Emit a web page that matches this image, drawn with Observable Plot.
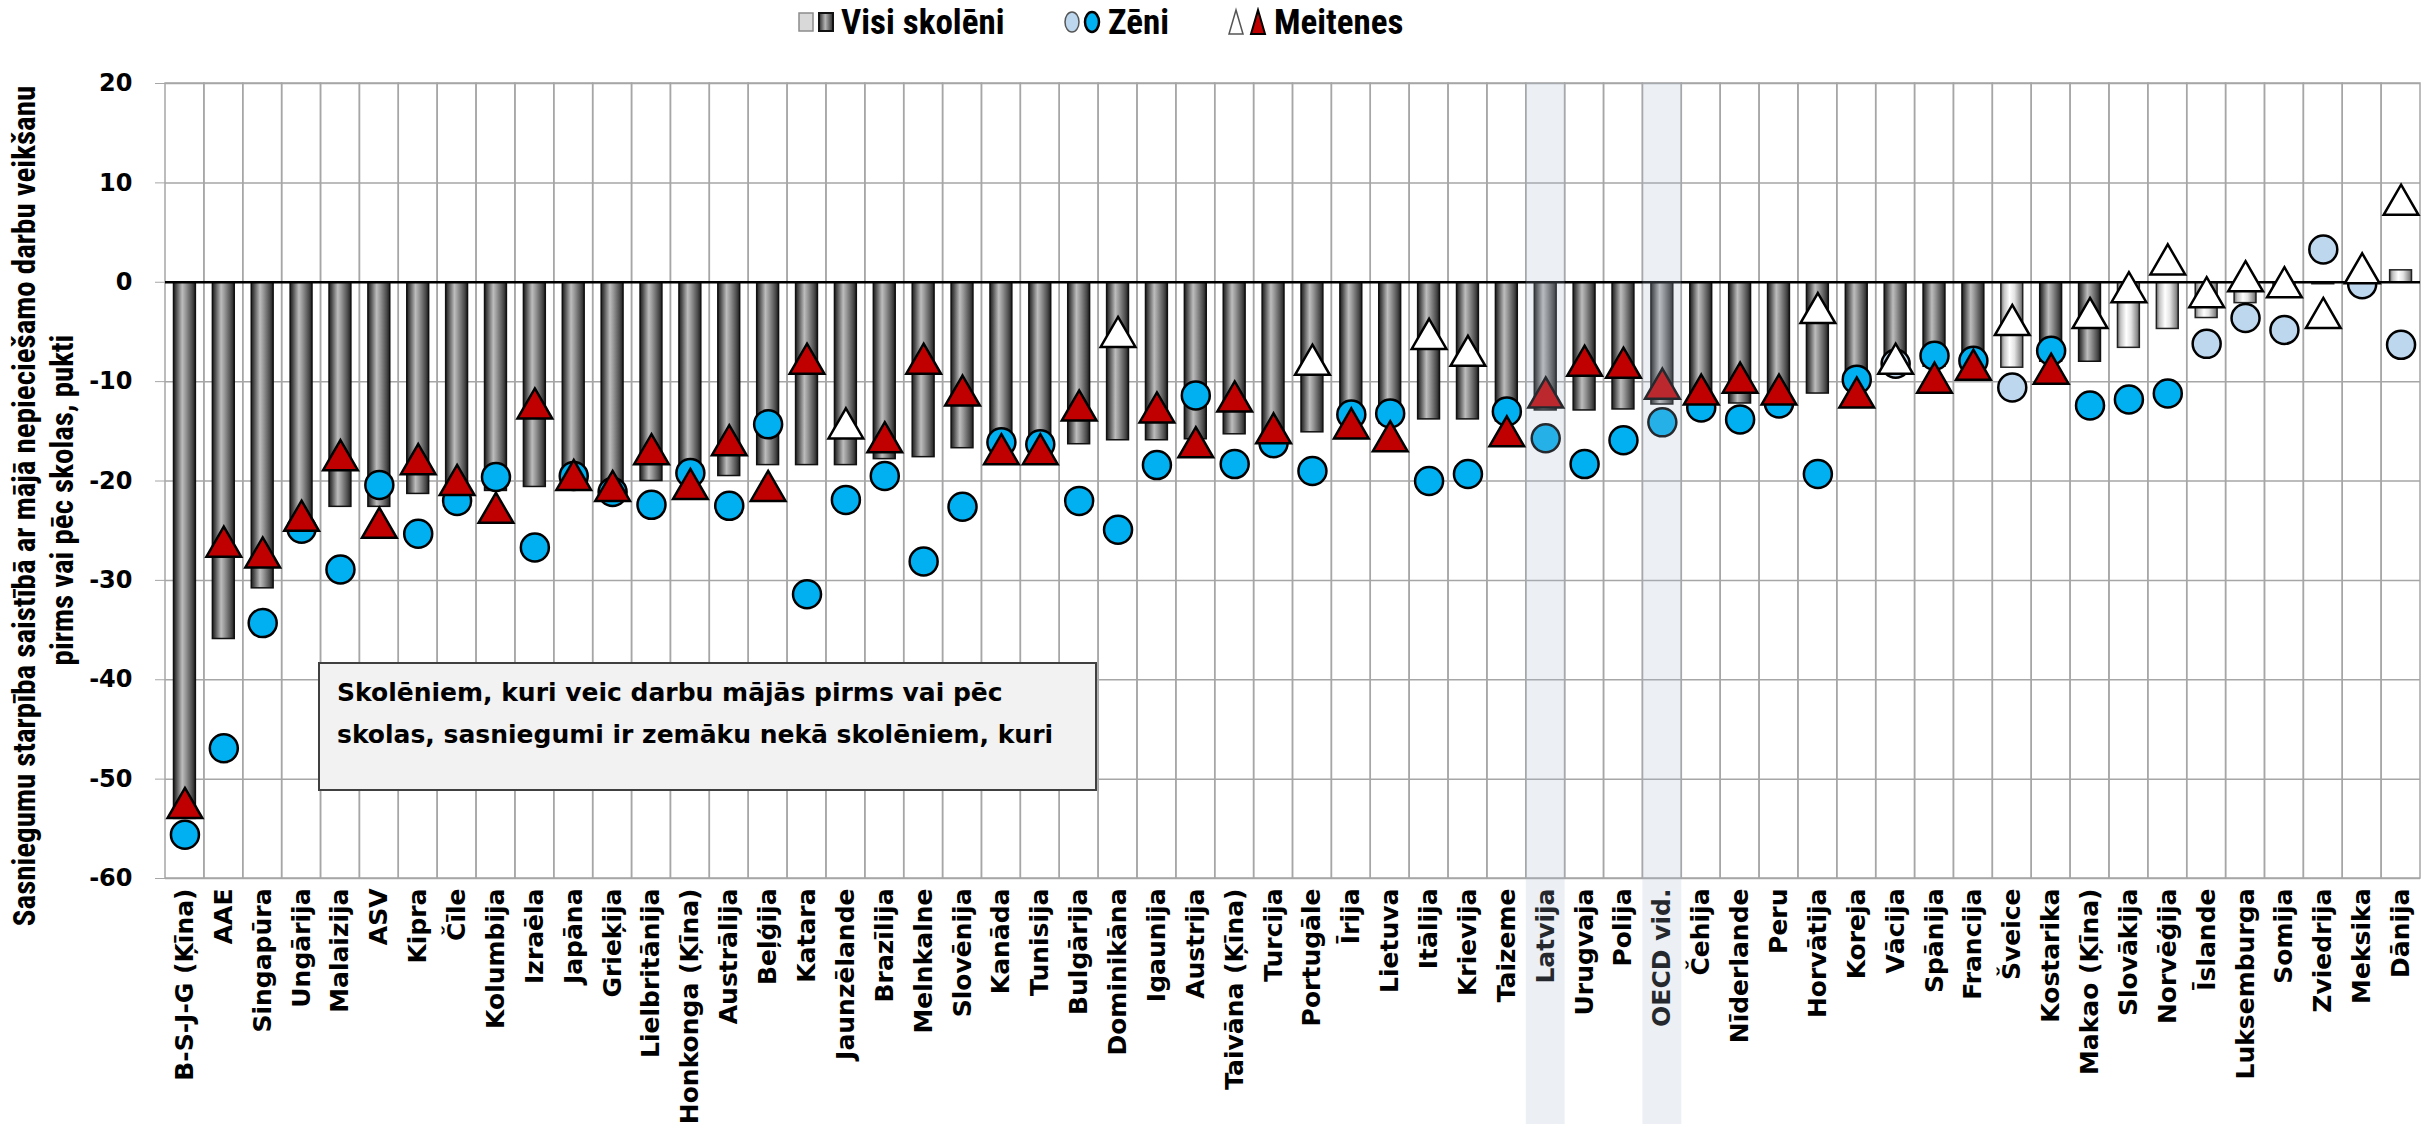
<!DOCTYPE html>
<html>
<head>
<meta charset="utf-8">
<script src="https://cdn.jsdelivr.net/npm/d3@7"></script>
<script src="https://cdn.jsdelivr.net/npm/@observablehq/plot@0.6"></script>
<style>
  html, body { margin: 0; padding: 0; background: #fff; overflow: hidden; }
  #wrap { position: relative; width: 2433px; height: 1124px; overflow: hidden; font-family: "DejaVu Sans", sans-serif; }
  #legend { position: relative; width: 2433px; height: 44px; }
  .narrow { font-family: "Liberation Sans Narrow", "Arial Narrow", Roboto, sans-serif; font-weight: bold; font-stretch: condensed; color: #000; }
  .leg-item { position: absolute; top: 0; height: 44px; display: flex; align-items: center; font-size: 35px; white-space: nowrap; }
  .leg-item svg { display: block; margin-right: 4px; }
  .ytitle { position: absolute; font-size: 31px; white-space: nowrap; transform: translate(-50%, -50%) rotate(-90deg); line-height: 1; }
  #note { position: absolute; left: 318px; top: 662px; width: 779px; height: 129px; box-sizing: border-box;
          background: #f2f2f2; border: 2.5px solid #404040; font: bold 25px "DejaVu Sans", sans-serif;
          padding: 8px 0 0 17px; line-height: 42px; color: #000; white-space: nowrap; }
</style>
</head>
<body>
<div id="wrap">
  <div id="legend">
    <div class="leg-item narrow" style="left:797px">
      <svg width="40" height="26" viewBox="0 0 40 26">
        <rect x="2" y="4" width="14" height="18" fill="#d9d9d9" stroke="#8c8c8c" stroke-width="1.5"/>
        <rect x="22" y="4" width="14" height="18" fill="url(#legGrad)" stroke="#111" stroke-width="2"/>
      </svg>
      <span>Visi skolēni</span>
    </div>
    <div class="leg-item narrow" style="left:1062px">
      <svg width="42" height="26" viewBox="0 0 42 26">
        <ellipse cx="10" cy="13" rx="7" ry="10" fill="#bdd7ee" stroke="#555" stroke-width="1.5"/>
        <ellipse cx="30" cy="13" rx="7" ry="10" fill="#00b0f0" stroke="#000" stroke-width="2.5"/>
      </svg>
      <span>Zēni</span>
    </div>
    <div class="leg-item narrow" style="left:1226px">
      <svg width="44" height="30" viewBox="0 0 44 30">
        <polygon points="10,3 3,27 17,27" fill="#fff" stroke="#555" stroke-width="1.5"/>
        <polygon points="32,3 25,27 39,27" fill="#c00000" stroke="#000" stroke-width="2"/>
      </svg>
      <span>Meitenes</span>
    </div>
    <svg width="0" height="0" style="position:absolute">
      <defs>
        <linearGradient id="legGrad" x1="0" x2="1" y1="0" y2="0">
          <stop offset="0" stop-color="#2a2a2a"/><stop offset="0.45" stop-color="#b5b5b5"/><stop offset="1" stop-color="#2a2a2a"/>
        </linearGradient>
      </defs>
    </svg>
  </div>
  <div id="chart"></div>
  <div class="ytitle narrow" style="left:24px; top:506px;">Sasniegumu starpība saistībā ar mājā nepieciešamo darbu veikšanu</div>
  <div class="ytitle narrow" style="left:62px; top:500px;">pirms vai pēc skolas, pukti</div>
  <div id="note">Skolēniem, kuri veic darbu mājās pirms vai pēc<br>skolas, sasniegumi ir zemāku nekā skolēniem, kuri</div>
</div>
<script>
// ---------- DATA ----------
const countries = [
  "B-S-J-G (Ķīna)", "AAE", "Singapūra", "Ungārija", "Malaizija", "ASV", "Kipra", "Čīle", "Kolumbija", "Izraēla",
  "Japāna", "Grieķija", "Lielbritānija", "Honkonga (Ķīna)", "Austrālija", "Beļģija", "Katara", "Jaunzēlande", "Brazīlija", "Melnkalne",
  "Slovēnija", "Kanāda", "Tunisija", "Bulgārija", "Dominikāna", "Igaunija", "Austrija", "Taivāna (Ķīna)", "Turcija", "Portugāle",
  "Īrija", "Lietuva", "Itālija", "Krievija", "Taizeme", "Latvija", "Urugvaja", "Polija", "OECD vid.", "Čehija",
  "Nīderlande", "Peru", "Horvātija", "Koreja", "Vācija", "Spānija", "Francija", "Šveice", "Kostarika", "Makao (Ķīna)",
  "Slovākija", "Norvēģija", "Īslande", "Luksemburga", "Somija", "Zviedrija", "Meksika", "Dānija"
];
const allStudents = [
  -54.0, -35.9, -30.8, -24.2, -22.6, -22.6, -21.3, -21.0, -21.0, -20.6,
  -19.5, -20.6, -20.0, -19.5, -19.5, -18.4, -18.4, -18.4, -17.8, -17.6,
  -16.7, -16.5, -16.5, -16.3, -15.9, -15.9, -15.8, -15.3, -15.5, -15.1,
  -13.7, -14.2, -13.8, -13.8, -14.0, -12.9, -12.9, -12.8, -12.3, -11.8,
  -12.2, -11.5, -11.2, -10.5, -8.2, -8.5, -8.6, -8.6, -8.0, -8.0,
  -6.6, -4.7, -3.6, -2.1, -1.0, -0.2, 0.4, 1.2
];
const boys = [
  -55.6, -46.9, -34.3, -24.8, -28.9, -20.4, -25.3, -22.0, -19.6, -26.7,
  -19.5, -21.1, -22.4, -19.2, -22.5, -14.3, -31.4, -21.9, -19.5, -28.1,
  -22.6, -16.1, -16.3, -22.0, -24.9, -18.4, -11.4, -18.3, -16.2, -19.0,
  -13.3, -13.2, -20.0, -19.3, -13.0, -15.7, -18.3, -15.9, -14.1, -12.6,
  -13.8, -12.2, -19.3, -9.8, -8.2, -7.4, -7.9, -10.6, -6.9, -12.4,
  -11.8, -11.2, -6.2, -3.6, -4.8, 3.3, -0.2, -6.3
];
const girls = [
  -52.4, -26.1, -27.2, -23.5, -17.4, -24.2, -17.8, -19.9, -22.7, -12.2,
  -19.4, -20.5, -16.8, -20.3, -15.9, -20.5, -7.7, -14.2, -15.6, -7.7,
  -10.9, -16.8, -16.8, -12.4, -5.0, -12.6, -16.1, -11.5, -14.7, -7.8,
  -14.2, -15.5, -5.2, -6.9, -15.0, -11.1, -7.9, -8.1, -10.2, -10.8,
  -9.6, -10.8, -2.6, -11.1, -7.7, -9.6, -8.3, -3.8, -8.7, -3.1,
  -0.5, 2.3, -1.0, 0.6, 0.0, -3.1, 1.4, 8.3
];
// 1 = statistically significant (dark symbol), 0 = not significant (light symbol)
const allSignificant = [
  1,1,1,1,1,1,1,1,1,1, 1,1,1,1,1,1,1,1,1,1, 1,1,1,1,1,1,1,1,1,1,
  1,1,1,1,1,1,1,1,1,1, 1,1,1,1,1,1,1,0,1,1, 0,0,0,0,0,0,0,0
];
const boysSignificant = [
  1,1,1,1,1,1,1,1,1,1, 1,1,1,1,1,1,1,1,1,1, 1,1,1,1,1,1,1,1,1,1,
  1,1,1,1,1,1,1,1,1,1, 1,1,1,1,0,1,1,0,1,1, 1,1,0,0,0,0,0,0
];
const girlsSignificant = [
  1,1,1,1,1,1,1,1,1,1, 1,1,1,1,1,1,1,0,1,1, 1,1,1,1,0,1,1,1,1,0,
  1,1,0,0,1,1,1,1,1,1, 1,1,0,1,0,1,1,0,1,0, 0,0,0,0,0,0,0,0
];
const highlighted = ["Latvija", "OECD vid."];
const yTicks = [20, 10, 0, -10, -20, -30, -40, -50, -60];

// ---------- TABLE ----------
const rows = countries.map((c, i) => ({
  country: c, all: allStudents[i], boys: boys[i], girls: girls[i],
  sa: allSignificant[i] === 1, sb: boysSignificant[i] === 1, sg: girlsSignificant[i] === 1
}));

const svg = Plot.plot({
  width: 2433,
  height: 1080,
  marginTop: 39,
  marginBottom: 246,
  marginLeft: 165,
  marginRight: 13,
  x: {type: "band", domain: countries, padding: 0},
  y: {domain: [-60, 20]},
  color: {type: "identity"},
  style: {fontFamily: "DejaVu Sans, sans-serif", background: "white", overflow: "visible", color: "black"},
  marks: [
    Plot.gridY(yTicks, {stroke: "#a6a6a6", strokeOpacity: 1, strokeWidth: 1.5}),
    Plot.cell(countries, {x: d => d, fill: "none", stroke: "#a6a6a6", strokeWidth: 1.5}),
    Plot.barY(rows.filter(d => d.sa), {x: "country", y: "all", fill: "url(#gDark)", stroke: "#111", strokeWidth: 1.5, insetLeft: 8.5, insetRight: 8.5}),
    Plot.barY(rows.filter(d => !d.sa), {x: "country", y: "all", fill: "url(#gLight)", stroke: "#222", strokeWidth: 1.5, insetLeft: 8.5, insetRight: 8.5}),
    Plot.ruleY([0], {stroke: "black", strokeWidth: 2.5}),
    Plot.dot(rows, {x: "country", y: "boys", r: 14, symbol: "circle",
      fill: d => d.sb ? "#00b0f0" : "#bdd7ee", stroke: "black", strokeWidth: 2.5}),
    Plot.dot(rows, {x: "country", y: "girls", r: 12.9, symbol: "triangle", dy: 5,
      fill: d => d.sg ? "#c00000" : "#ffffff", stroke: "black", strokeWidth: 2.5}),
    Plot.axisY(yTicks, {tickSize: 10, tickPadding: 23, fontSize: 24, fontWeight: "bold",
      tickFormat: d => String(d), stroke: "#a6a6a6", fill: "black", label: null}),
    Plot.axisX({tickRotate: -90, tickSize: 0, tickPadding: 10, fontSize: 25, fontWeight: "bold",
      fill: "black", label: null}),
    Plot.cell(highlighted, {x: d => d, fill: "#a8b6cd", fillOpacity: 0.22, insetBottom: -246})
  ]
});

const ns = "http://www.w3.org/2000/svg";
const defs = document.createElementNS(ns, "defs");
defs.innerHTML = `
  <linearGradient id="gDark" x1="0" x2="1" y1="0" y2="0">
    <stop offset="0" stop-color="#1e1e1e"/>
    <stop offset="0.12" stop-color="#4a4a4a"/>
    <stop offset="0.40" stop-color="#bdbdbd"/>
    <stop offset="0.55" stop-color="#9a9a9a"/>
    <stop offset="0.85" stop-color="#4d4d4d"/>
    <stop offset="1" stop-color="#1e1e1e"/>
  </linearGradient>
  <linearGradient id="gLight" x1="0" x2="1" y1="0" y2="0">
    <stop offset="0" stop-color="#6e6e6e"/>
    <stop offset="0.15" stop-color="#c4c4c4"/>
    <stop offset="0.40" stop-color="#ffffff"/>
    <stop offset="0.62" stop-color="#e4e4e4"/>
    <stop offset="0.9" stop-color="#8c8c8c"/>
    <stop offset="1" stop-color="#5a5a5a"/>
  </linearGradient>`;
svg.insertBefore(defs, svg.firstChild);
document.getElementById("chart").appendChild(svg);
</script>
</body>
</html>
